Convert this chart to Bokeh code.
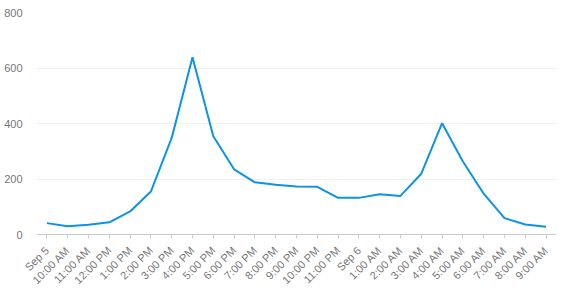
import math
from bokeh.plotting import figure
from bokeh.models import FactorRange, Range1d, FixedTicker
from bokeh.embed import file_html
from bokeh.resources import INLINE

labels = ["Sep 5", "10:00 AM", "11:00 AM", "12:00 PM", "1:00 PM", "2:00 PM", "3:00 PM",
          "4:00 PM", "5:00 PM", "6:00 PM", "7:00 PM", "8:00 PM", "9:00 PM", "10:00 PM",
          "11:00 PM", "Sep 6", "1:00 AM", "2:00 AM", "3:00 AM", "4:00 AM", "5:00 AM",
          "6:00 AM", "7:00 AM", "8:00 AM", "9:00 AM"]
values = [41, 30, 35, 44, 83, 155, 348, 639, 354, 235, 188, 179, 173, 172, 132, 132,
          145, 139, 219, 401, 263, 147, 59, 36, 28]
y_ticks = [0, 200, 400, 600, 800]

p = figure(width=563, height=297, output_backend="svg", toolbar_location=None,
           x_range=FactorRange(factors=labels, range_padding=0),
           y_range=Range1d(0, 800),
           min_border_left=36, min_border_right=7, min_border_top=12, min_border_bottom=63)
p.outline_line_color = None
p.background_fill_color = "white"
p.border_fill_color = "white"

p.line(labels, values, line_color="#0b93e6", line_width=2)

font = "Liberation Sans"
lbl_color = "#777777"

p.yaxis.ticker = FixedTicker(ticks=y_ticks)
p.yaxis.axis_line_color = None
p.yaxis.major_tick_line_color = None
p.yaxis.minor_tick_line_color = None
p.yaxis.major_label_text_font = font
p.yaxis.major_label_text_font_size = "11px"
p.yaxis.major_label_text_color = lbl_color
p.yaxis.major_label_standoff = 8

p.xaxis.axis_line_color = "#cccccc"
p.xaxis.major_tick_line_color = "#cccccc"
p.xaxis.major_tick_in = 0
p.xaxis.major_tick_out = 4
p.xaxis.major_label_orientation = math.pi / 4
p.xaxis.major_label_text_font = font
p.xaxis.major_label_text_font_size = "11px"
p.xaxis.major_label_text_color = lbl_color
p.xaxis.major_label_standoff = 10

p.xgrid.grid_line_color = None
p.ygrid.grid_line_color = "#f0f0f0"

open("out.html", "w").write(file_html(p, INLINE))
